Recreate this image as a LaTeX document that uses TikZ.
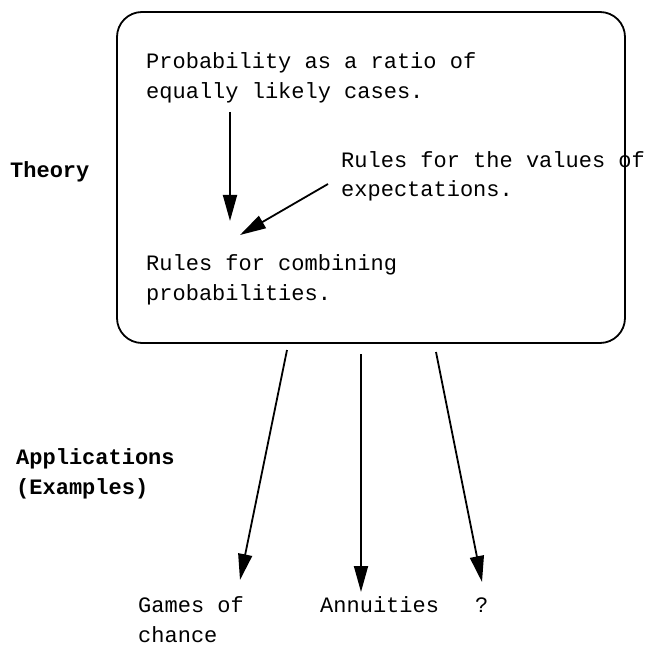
\documentclass[tikz,border=0pt]{standalone}
\usepackage{fontspec}
\setmonofont{Liberation Mono}
\usetikzlibrary{arrows.meta}
\tikzset{
  txt/.style={anchor=base west, inner sep=0pt, font=\ttfamily\fontsize{22}{30}\selectfont},
  head/.style={txt, font=\ttfamily\bfseries\fontsize{22}{30}\selectfont},
  link/.style={line width=1.8pt, -{Triangle[length=26pt,width=14pt]}},
  frame/.style={draw, line width=1.8pt, rounded corners=25pt}
}
\begin{document}
\begin{tikzpicture}[x=1pt,y=-1pt]
\useasboundingbox (0,0) rectangle (648,647);
% theory frame
\draw[frame] (117,12) rectangle (625,343);
% side headings
\node[head] (theory) at (10,178) {Theory};
\node[head] (apps) at (16,464) {Applications};
\node[head] (ex) at (16,494) {(Examples)};
% statements inside the frame
\node[txt] (p1) at (146,69) {Probability as a ratio of};
\node[txt] (p2) at (146,99) {equally likely cases.};
\node[txt] (e1) at (341,168) {Rules for the values of};
\node[txt] (e2) at (341,197) {expectations.};
\node[txt] (c1) at (146,270) {Rules for combining};
\node[txt] (c2) at (146,300) {probabilities.};
% applications
\node[txt] (g1) at (138,612) {Games of};
\node[txt] (g2) at (138,642) {chance};
\node[txt] (an) at (320,612) {Annuities};
\node[txt] (q) at (475,612) {?};
% arrow endpoints
\coordinate (p-out) at (230,112);
\coordinate (c-in1) at (230,221);
\coordinate (e-out) at (328,184);
\coordinate (c-in2) at (240,235);
\coordinate (b-a) at (287,350);
\coordinate (g-in) at (240,580);
\coordinate (b-b) at (361,354);
\coordinate (an-in) at (361,592);
\coordinate (b-c) at (436,352);
\coordinate (q-in) at (482,582);
% connectors
\draw[link] (p-out) -- (c-in1);
\draw[link] (e-out) -- (c-in2);
\draw[link] (b-a) -- (g-in);
\draw[link] (b-b) -- (an-in);
\draw[link] (b-c) -- (q-in);
\end{tikzpicture}
\end{document}
